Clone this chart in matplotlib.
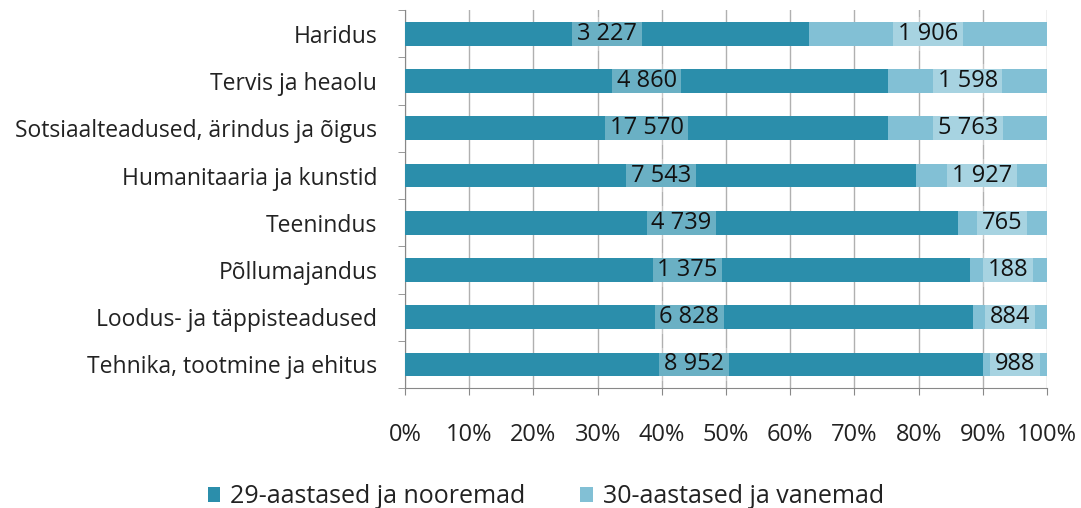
import numpy as np
import matplotlib.pyplot as plt

plt.rcParams['font.family'] = ['Open Sans', 'DejaVu Sans']

categories = ['Haridus', 'Tervis ja heaolu', 'Sotsiaalteadused, ärindus ja õigus',
              'Humanitaaria ja kunstid', 'Teenindus', 'Põllumajandus',
              'Loodus- ja täppisteadused', 'Tehnika, tootmine ja ehitus']
young = [3227, 4860, 17570, 7543, 4739, 1375, 6828, 8952]
old = [1906, 1598, 5763, 1927, 765, 188, 884, 988]
series_names = ['29-aastased ja nooremad', '30-aastased ja vanemad']

dark = '#2b8eab'
light = '#82c0d5'


def fmt(v):
    return f'{v:,}'.replace(',', ' ')


fig = plt.figure(figsize=(10.81, 5.08), dpi=100)
ax = fig.add_axes([0.3747, 0.236, 0.5939, 0.744])

young = np.array(young, dtype=float)
old = np.array(old, dtype=float)
total = young + old
py = young / total
po = old / total
y = np.arange(len(categories))

b1 = ax.barh(y, py, height=0.5, color=dark, label=series_names[0], zorder=3)
b2 = ax.barh(y, po, left=py, height=0.5, color=light, label=series_names[1], zorder=3)

# semi-transparent label boxes like the Excel data labels
box = dict(boxstyle='square,pad=0.2', fc='white', ec='none', alpha=0.3)
for i in range(len(categories)):
    ax.text(py[i] / 2, y[i], fmt(int(young[i])), ha='center', va='center',
            fontsize=17, color='#111111', bbox=box, zorder=4)
    ax.text(py[i] + po[i] / 2, y[i], fmt(int(old[i])), ha='center', va='center',
            fontsize=17, color='#111111', bbox=box, zorder=4)

ax.set_xlim(0, 1)
ax.set_ylim(len(categories) - 0.5, -0.5)
ax.set_xticks(np.linspace(0, 1, 11))
ax.set_xticklabels([f'{i}%' for i in range(0, 101, 10)], fontsize=17)
ax.set_yticks(y)
ax.set_yticklabels(categories, fontsize=16.5, color='#222222')
ax.set_yticks(np.arange(-0.5, len(categories)), minor=True)
ax.tick_params(axis='y', which='major', length=0, pad=20)
ax.tick_params(axis='y', which='minor', length=5, color='#888888')
ax.tick_params(axis='x', length=5, color='#888888', pad=20, labelcolor='#222222')
ax.grid(axis='x', color='#b0b0b0', linewidth=1, zorder=0)
for s in ['top', 'right']:
    ax.spines[s].set_visible(False)
for s in ['left', 'bottom']:
    ax.spines[s].set_color('#888888')

fig.legend(handles=[b1, b2], loc='center', bbox_to_anchor=(0.505, 0.022), ncol=2,
           frameon=False, fontsize=18, handlelength=0.5, handleheight=0.5,
           columnspacing=2.2, handletextpad=0.4, labelcolor='#222222')

fig.savefig('out.png', dpi=100)
